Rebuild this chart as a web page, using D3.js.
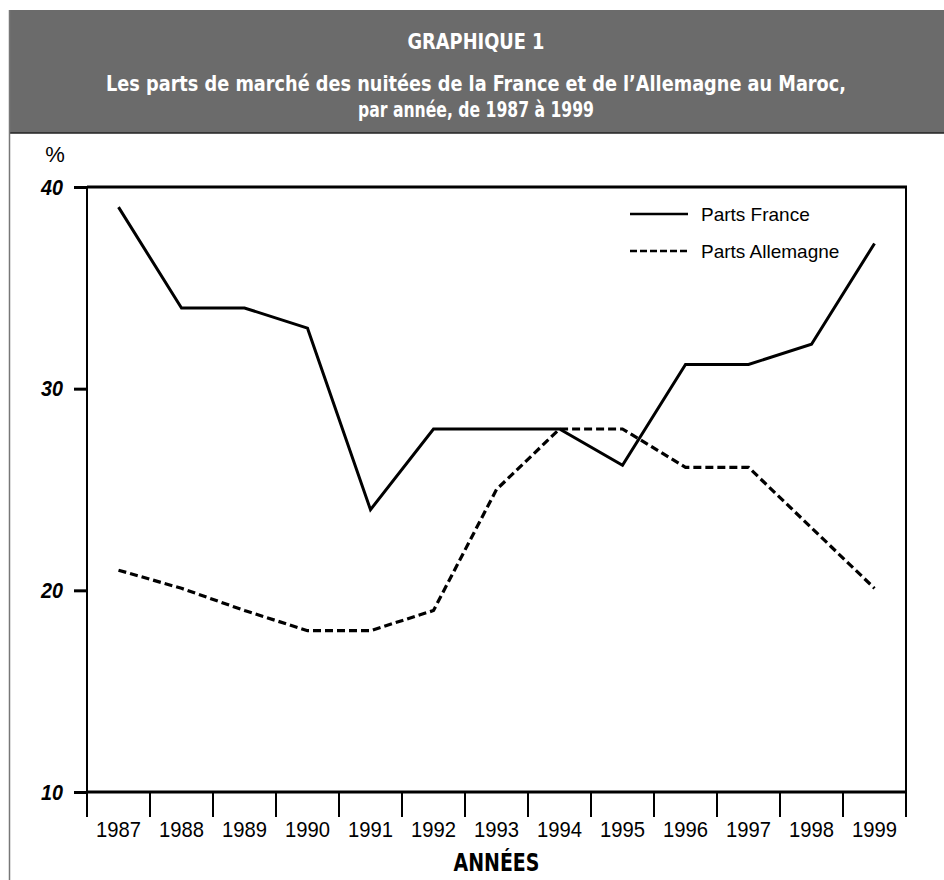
<!DOCTYPE html>
<html>
<head>
<meta charset="utf-8">
<script src="https://cdn.jsdelivr.net/npm/d3@7"></script>
<style>
  body { margin: 0; background: #fff; }
  svg { display: block; }
</style>
</head>
<body>
<div id="chart"></div>
<script>
// values
const years = [1987, 1988, 1989, 1990, 1991, 1992, 1993, 1994, 1995, 1996, 1997, 1998, 1999];
const franceShare = [39, 34, 34, 33, 24, 28, 28, 28, 26.2, 31.2, 31.2, 32.2, 37.2];
const germanyShare = [21, 20.1, 19, 18, 18, 19, 25, 28, 28, 26.1, 26.1, 23.1, 20.1];
const yTicks = [10, 20, 30, 40];
const seriesNames = ["Parts France", "Parts Allemagne"];

const width = 944, height = 880;
const margin = { top: 187, right: 38, bottom: 88, left: 87 };
const narrow = "'Liberation Sans Narrow', 'Arial Narrow', 'DejaVu Sans Condensed', sans-serif";
const plain = "'Liberation Sans', Arial, sans-serif";

const svg = d3.select("#chart").append("svg")
  .attr("width", width)
  .attr("height", height);

// header band
svg.append("rect")
  .attr("x", 9).attr("y", 10)
  .attr("width", width - 9).attr("height", 123)
  .attr("fill", "#6b6b6b");
svg.append("line")
  .attr("x1", 9).attr("x2", width)
  .attr("y1", 133).attr("y2", 133)
  .attr("stroke", "#222").attr("stroke-width", 1.5);
svg.append("line")
  .attr("x1", 9.5).attr("x2", 9.5)
  .attr("y1", 10).attr("y2", height)
  .attr("stroke", "#777").attr("stroke-width", 1.5);

const header = [
  { text: "GRAPHIQUE 1", y: 49, len: 137, size: 22 },
  { text: "Les parts de marché des nuitées de la France et de l’Allemagne au Maroc,", y: 91, len: 740, size: 22 },
  { text: "par année, de 1987 à 1999", y: 117, len: 236, size: 22 }
];
svg.append("g").selectAll("text")
  .data(header)
  .join("text")
  .attr("x", 476)
  .attr("y", d => d.y)
  .attr("text-anchor", "middle")
  .attr("textLength", d => d.len)
  .attr("lengthAdjust", "spacingAndGlyphs")
  .attr("fill", "#fff")
  .style("font-family", narrow)
  .style("font-weight", "bold")
  .style("font-size", d => d.size + "px")
  .text(d => d.text);

const x = d3.scaleBand()
  .domain(years)
  .range([margin.left, width - margin.right]);

const y = d3.scaleLinear()
  .domain([10, 40])
  .range([height - margin.bottom, margin.top]);

const x0 = x.range()[0], x1 = x.range()[1];
const y0 = y(10), yTop = y(40);

// y axis ticks and labels
const yAxis = svg.append("g")
  .attr("transform", `translate(${x0},0)`)
  .call(d3.axisLeft(y).tickValues(yTicks).tickSize(13).tickPadding(11));
yAxis.select(".domain").remove();
yAxis.selectAll(".tick line").attr("stroke", "#000").attr("stroke-width", 3);
yAxis.selectAll(".tick text")
  .attr("fill", "#000")
  .attr("textLength", 22)
  .attr("lengthAdjust", "spacingAndGlyphs")
  .style("font-family", plain)
  .style("font-weight", "bold")
  .style("font-style", "italic")
  .style("font-size", "22px");

svg.append("text")
  .attr("x", 55).attr("y", 162)
  .attr("text-anchor", "middle")
  .style("font-family", plain)
  .style("font-size", "22px")
  .text("%");

// frame
svg.append("line")
  .attr("x1", x0).attr("x2", x0).attr("y1", yTop).attr("y2", y0)
  .attr("stroke", "#000").attr("stroke-width", 2);
svg.append("line")
  .attr("x1", x1).attr("x2", x1).attr("y1", yTop).attr("y2", y0)
  .attr("stroke", "#000").attr("stroke-width", 2);
svg.append("line")
  .attr("x1", x0).attr("x2", x1 + 1).attr("y1", yTop).attr("y2", yTop)
  .attr("stroke", "#000").attr("stroke-width", 3);
svg.append("line")
  .attr("x1", x0).attr("x2", x1 + 1).attr("y1", y0).attr("y2", y0)
  .attr("stroke", "#000").attr("stroke-width", 3);

// x axis: ticks on band edges, labels in the middle
const edges = years.map(d => x(d)).concat([x1]);
svg.append("g").selectAll("line")
  .data(edges)
  .join("line")
  .attr("x1", d => d).attr("x2", d => d)
  .attr("y1", y0).attr("y2", y0 + 25)
  .attr("stroke", "#000").attr("stroke-width", 2);

const xAxis = svg.append("g")
  .attr("transform", `translate(0,${y0})`)
  .call(d3.axisBottom(x).tickSize(0).tickPadding(29));
xAxis.select(".domain").remove();
xAxis.selectAll(".tick text")
  .attr("fill", "#000")
  .attr("dy", "0.71em")
  .attr("textLength", 45)
  .attr("lengthAdjust", "spacingAndGlyphs")
  .style("font-family", plain)
  .style("font-size", "22px");

svg.append("text")
  .attr("x", (x0 + x1) / 2)
  .attr("y", 871)
  .attr("text-anchor", "middle")
  .attr("textLength", 86)
  .attr("lengthAdjust", "spacingAndGlyphs")
  .style("font-family", narrow)
  .style("font-weight", "bold")
  .style("font-size", "24px")
  .text("ANNÉES");

// lines
const line = d3.line()
  .x((d, i) => x(years[i]) + x.bandwidth() / 2)
  .y(d => y(d));

svg.append("path")
  .datum(franceShare)
  .attr("d", line)
  .attr("fill", "none")
  .attr("stroke", "#000")
  .attr("stroke-width", 3);

svg.append("path")
  .datum(germanyShare)
  .attr("d", line)
  .attr("fill", "none")
  .attr("stroke", "#000")
  .attr("stroke-width", 3.2)
  .attr("stroke-dasharray", "8,4");

// legend
const legend = svg.append("g").attr("transform", "translate(630,214)");
seriesNames.forEach((name, i) => {
  const g = legend.append("g").attr("transform", `translate(0,${i * 37})`);
  g.append("line")
    .attr("x1", 0).attr("x2", 58)
    .attr("stroke", "#000")
    .attr("stroke-width", 2.5)
    .attr("stroke-dasharray", i === 1 ? "7,3" : null);
  g.append("text")
    .attr("x", 71).attr("y", 7)
    .style("font-family", plain)
    .style("font-size", "19px")
    .text(name);
});
</script>
</body>
</html>
